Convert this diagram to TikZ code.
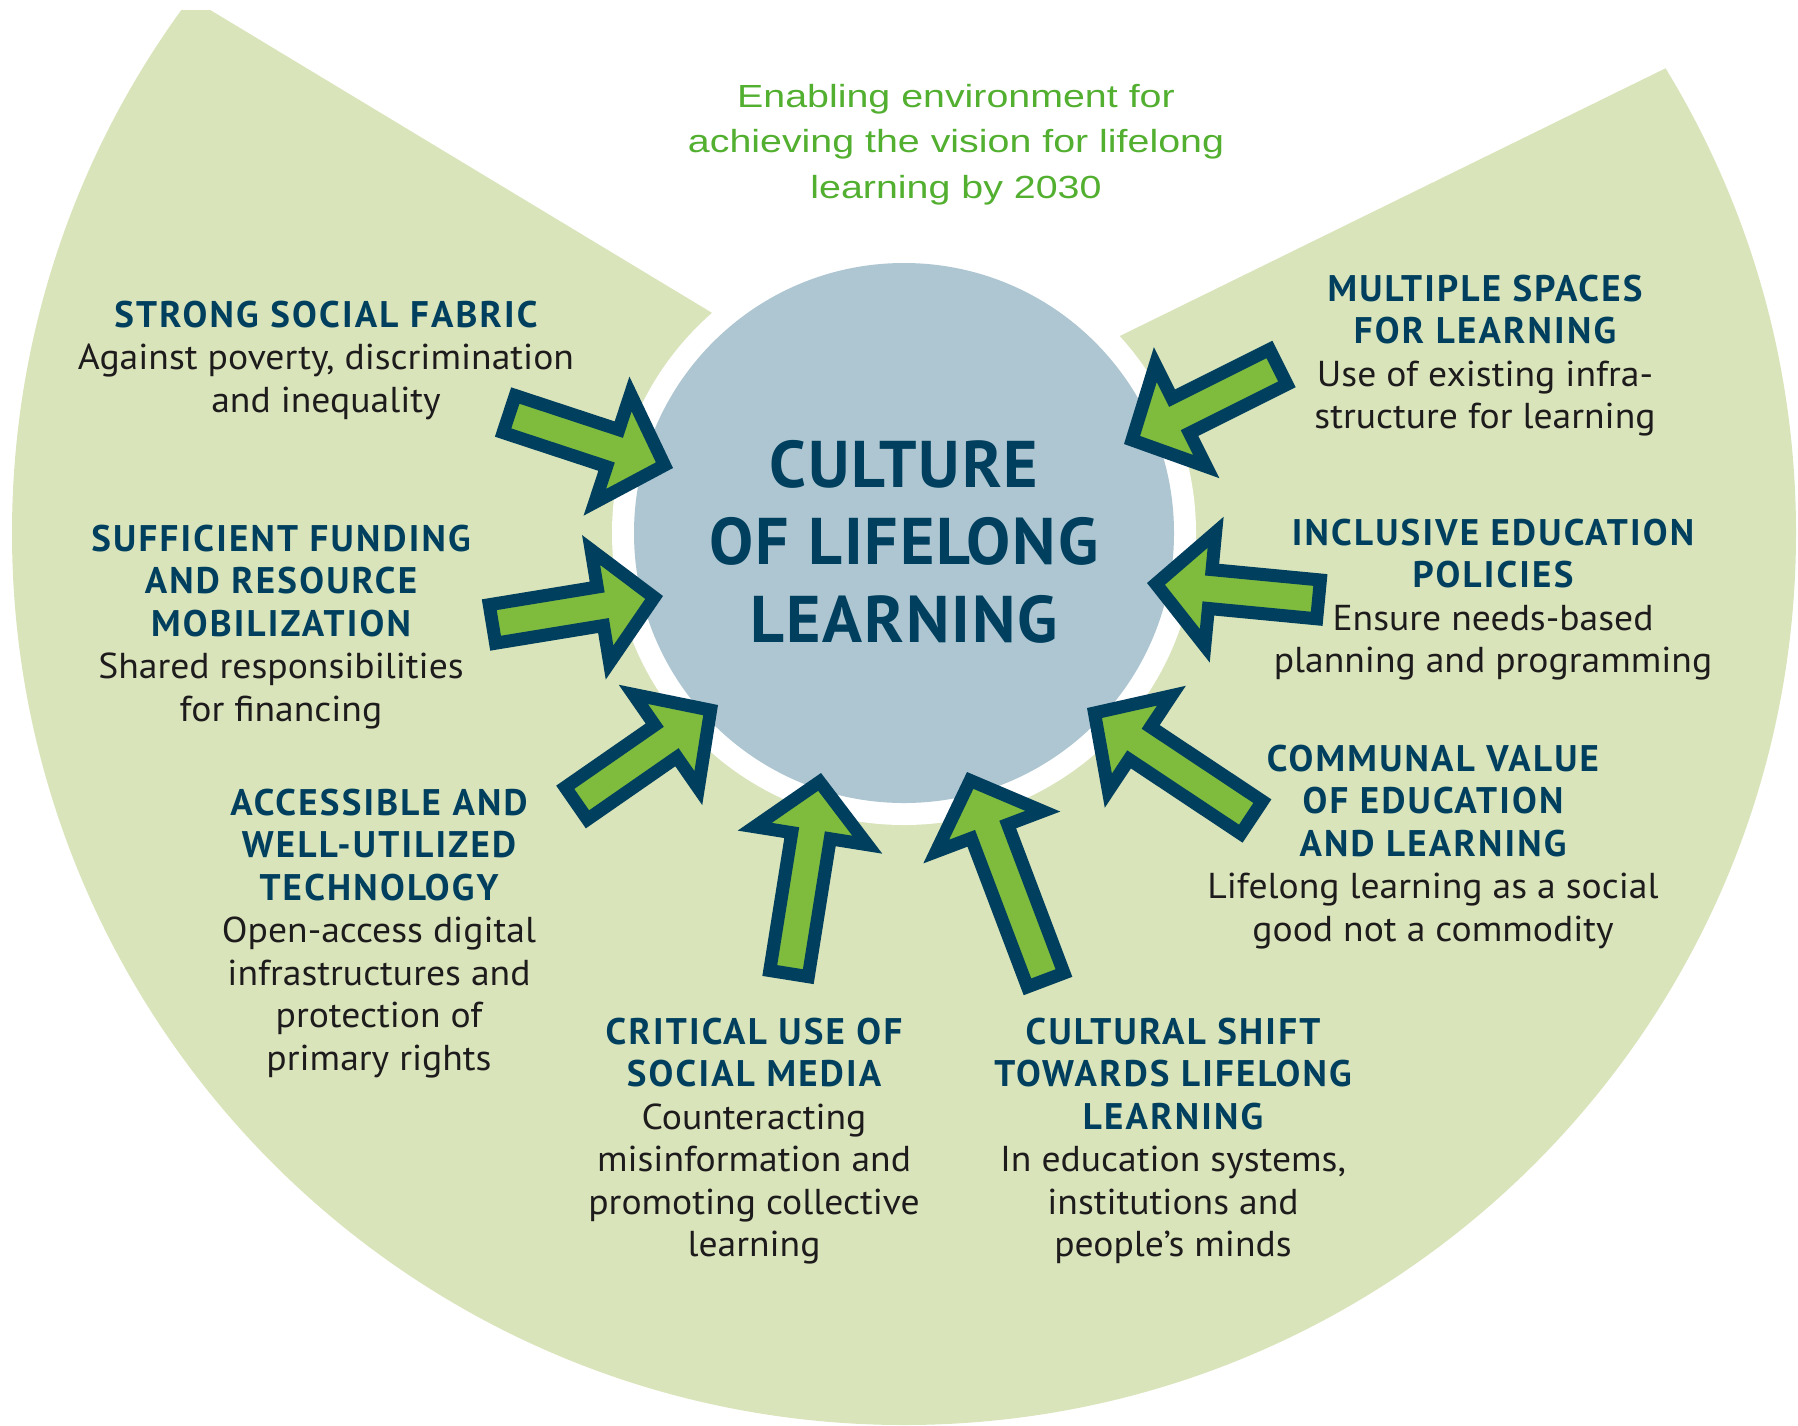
\documentclass[tikz,border=0pt]{standalone}
\usepackage{fontspec}
\setmainfont{PT Sans}
\newfontfamily\greenfont[FakeStretch=1.23]{Liberation Sans}
\newfontfamily\bodyfont[FakeStretch=1.045]{PT Sans}
\newfontfamily\titlefont[LetterSpace=6]{PT Sans Bold}
\newfontfamily\corefont[LetterSpace=3]{PT Sans Bold}
\usetikzlibrary{calc}
\definecolor{bggreen}{HTML}{D9E4BB}
\definecolor{bluec}{HTML}{ADC6D1}
\definecolor{arrowfill}{HTML}{7FBB3D}
\definecolor{navy}{HTML}{003F5E}
\definecolor{bodyblack}{HTML}{1E1B1C}
\definecolor{topgreen}{HTML}{52AF30}
\tikzset{
  blockarrow/.style={draw=navy, fill=arrowfill, line width=13pt, line join=miter},
  blocktext/.style={align=center, anchor=base, inner sep=0pt, text=bodyblack,
    font=\bodyfont\fontsize{36}{42.5}\selectfont},
}
\newcommand\ttl[1]{\textcolor{navy}{\titlefont\fontsize{37}{42.5}\selectfont #1}}
\newcommand\blockarrow[3]{%
  \coordinate (#1T) at (#2);
  \coordinate (#1P) at (#3);
  \coordinate (#1t) at ($(#1T)!6.5pt!(#1P)$);
  \coordinate (#1p) at ($(#1P)!9pt!(#1T)$);
  \coordinate (#1b) at ($(#1P)!63.5pt!(#1T)$);
  \draw[blockarrow] ($(#1t)!19.5pt!90:(#1p)$) -- ($(#1b)!19.5pt!-90:(#1t)$)
    -- ($(#1b)!57pt!-90:(#1t)$) -- (#1p) -- ($(#1b)!57pt!90:(#1t)$)
    -- ($(#1b)!19.5pt!90:(#1t)$) -- ($(#1t)!19.5pt!-90:(#1p)$) -- cycle;
}
\begin{document}
\begin{tikzpicture}[x=1pt,y=-1pt]
\useasboundingbox (0,0) rectangle (1798,1425);
% background sector
\begin{scope}
  \clip (904,533) circle [radius=892];
  \clip (0,10) rectangle (1798,1425);
  \fill[bggreen] (916,436) -- (28,-100) -- (-300,-100) -- (-300,1700)
    -- (2300,1700) -- (2300,-243) -- cycle;
\end{scope}
\fill[white] (904,533) circle [radius=292];
\node[circle, fill=bluec, minimum size=540pt, inner sep=0pt] (core) at (904,533) {};
% base anchor = baseline of the last line
\node[align=center, anchor=base, inner sep=0pt, text=navy,
  font=\corefont\fontsize{66}{77.5}\selectfont] (culture) at (904,642)
  {CULTURE\\OF LIFELONG\\LEARNING};
% arrows
\blockarrow{a1}{503,412}{673,468}
\blockarrow{a2}{486,625}{663,596}
\blockarrow{a3}{571,807}{718,705}
\blockarrow{a4}{788,980}{821,773}
\blockarrow{a5}{1048,986}{967,772}
\blockarrow{a6}{1257,821}{1087,708}
\blockarrow{a7}{1325,600}{1147,583}
\blockarrow{a8}{1284,364}{1124,444}
% texts
\node[align=center, anchor=base, inner sep=0pt, text=topgreen,
  font=\greenfont\fontsize{32}{45.7}\selectfont] (enabling) at (956,198.5)
  {Enabling environment for\\achieving the vision for lifelong\\learning by 2030};
\node[blocktext] (fabric) at (326,412)
  {\ttl{STRONG SOCIAL FABRIC}\\Against poverty, discrimination\\and inequality};
\node[blocktext] (funding) at (281,721)
  {\ttl{SUFFICIENT FUNDING}\\\ttl{AND RESOURCE}\\\ttl{MOBILIZATION}\\Shared responsibilities\\for financing};
\node[blocktext] (technology) at (379,1070)
  {\ttl{ACCESSIBLE AND}\\\ttl{WELL-UTILIZED}\\\ttl{TECHNOLOGY}\\Open-access digital\\infrastructures and\\protection of\\primary rights};
\node[blocktext] (media) at (754,1256.5)
  {\ttl{CRITICAL USE OF}\\\ttl{SOCIAL MEDIA}\\Counteracting\\misinformation and\\promoting collective\\learning};
\node[blocktext] (shift) at (1173,1256.5)
  {\ttl{CULTURAL SHIFT}\\\ttl{TOWARDS LIFELONG}\\\ttl{LEARNING}\\In education systems,\\institutions and\\people’s minds};
\node[blocktext] (communal) at (1433,941)
  {\ttl{COMMUNAL VALUE}\\\ttl{OF EDUCATION}\\\ttl{AND LEARNING}\\Lifelong learning as a social\\good not a commodity};
\node[blocktext] (policies) at (1493,672.5)
  {\ttl{INCLUSIVE EDUCATION}\\\ttl{POLICIES}\\Ensure needs-based\\planning and programming};
\node[blocktext] (spaces) at (1485,428.5)
  {\ttl{MULTIPLE SPACES}\\\ttl{FOR LEARNING}\\Use of existing infra-\\structure for learning};
\end{tikzpicture}
\end{document}
